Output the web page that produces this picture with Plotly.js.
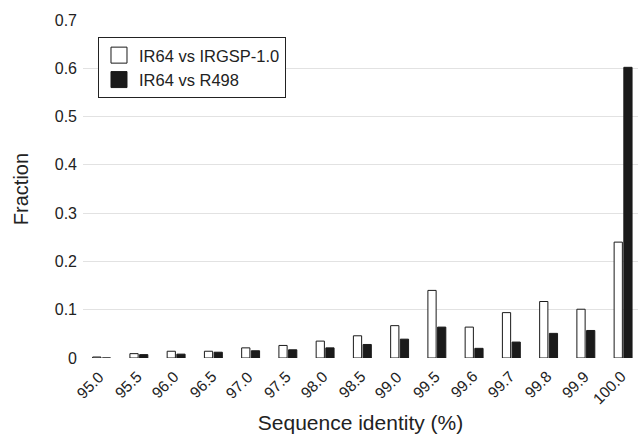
<!DOCTYPE html>
<html>
<head>
<meta charset="utf-8">
<script src="https://cdn.plot.ly/plotly-3.0.1.min.js"></script>
<style>html,body{margin:0;padding:0;background:#fff}#chart{width:638px;height:435px}</style>
</head>
<body>
<div id="chart"></div>
<script>
const categories = ["95.0","95.5","96.0","96.5","97.0","97.5","98.0","98.5","99.0","99.5","99.6","99.7","99.8","99.9","100.0"];
const irgspValues = [0.002,0.009,0.014,0.014,0.021,0.026,0.035,0.046,0.067,0.140,0.064,0.094,0.117,0.101,0.240];
const r498Values  = [0.000,0.007,0.008,0.012,0.015,0.017,0.021,0.028,0.039,0.064,0.020,0.033,0.051,0.057,0.602];
const seriesNames = ["IR64 vs IRGSP-1.0","IR64 vs R498"];
const yTicks = [0,0.1,0.2,0.3,0.4,0.5,0.6,0.7];
const yTickLabels = ["0","0.1","0.2","0.3","0.4","0.5","0.6","0.7"];

const font = "Liberation Sans, Arial, sans-serif";
const fills = ["#ffffff","#1a1a1a"];
const data = [
  {type:"bar", x:categories, y:irgspValues, name:seriesNames[0], showlegend:false,
   marker:{color:fills[0], line:{color:"#1a1a1a", width:1}}},
  {type:"bar", x:categories, y:r498Values, name:seriesNames[1], showlegend:false,
   marker:{color:fills[1], line:{color:"#1a1a1a", width:1}}},
  {type:"scatter", mode:"markers", x:[null], y:[null], name:seriesNames[0], hoverinfo:"skip",
   marker:{symbol:"square", size:16, color:fills[0], line:{color:"#1a1a1a", width:1}}},
  {type:"scatter", mode:"markers", x:[null], y:[null], name:seriesNames[1], hoverinfo:"skip",
   marker:{symbol:"square", size:16, color:fills[1], line:{color:"#1a1a1a", width:1}}}
];
// rotated category labels, anchored at each category's index on the x axis
const tickAnnotations = categories.map((c, i) => ({
  x:i, xref:"x", y:0, yref:"paper", text:c, showarrow:false,
  textangle:-45, xanchor:"right", yanchor:"top", xshift:9, yshift:-7,
  font:{size:15.5, family:font, color:"#222"}
}));
const layout = {
  width:638, height:435,
  margin:{l:83, r:0, t:20, b:77},
  paper_bgcolor:"#fff", plot_bgcolor:"#fff",
  font:{family:font, color:"#222", size:14},
  barmode:"group", bargap:0.48, bargroupgap:0.15,
  showlegend:true,
  legend:{x:0.027, y:0.95, xanchor:"left", yanchor:"top",
    bordercolor:"#222", borderwidth:1, bgcolor:"#fff",
    font:{size:16.5, family:font, color:"#222"}, tracegroupgap:0},
  annotations:tickAnnotations,
  xaxis:{type:"category", range:[-0.5,14.4], automargin:false,
    showticklabels:false, showgrid:false, showline:false, ticks:"",
    title:{text:"Sequence identity (%)", font:{size:21, color:"#222"}, standoff:57}},
  yaxis:{range:[0,0.7], tickvals:yTicks, ticktext:yTickLabels, automargin:false,
    showgrid:true, gridcolor:"#e2e2e2", gridwidth:1, zeroline:false,
    showline:false, ticks:"", ticklabelstandoff:5,
    tickfont:{size:16, color:"#222"},
    title:{text:"Fraction", font:{size:20, color:"#222"}, standoff:20}}
};
Plotly.newPlot("chart", data, layout, {displayModeBar:false, staticPlot:true});
</script>
</body>
</html>
